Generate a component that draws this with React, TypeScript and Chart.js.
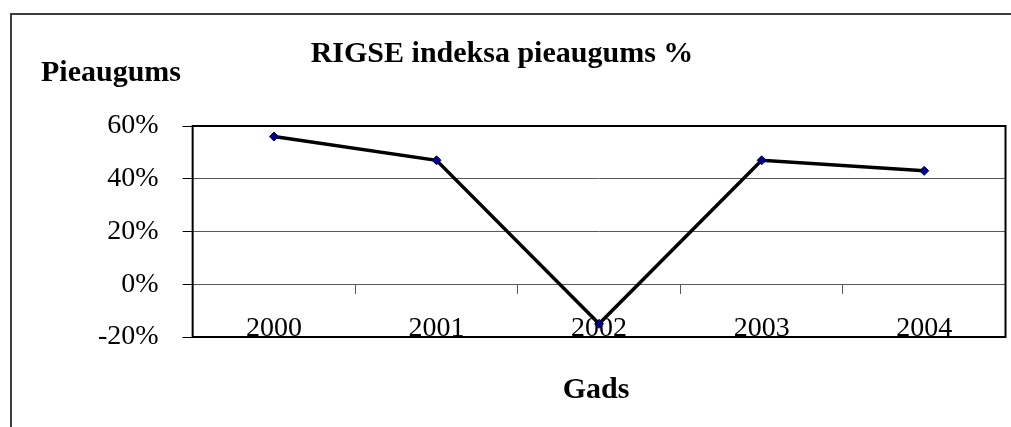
import React, { useEffect, useRef } from "react";
import { Chart, registerables } from "chart.js";

Chart.register(...registerables);

const categories = ["2000", "2001", "2002", "2003", "2004"];
const growthValues = [56, 47, -15, 47, 43];
const yTickValues = [-20, 0, 20, 40, 60];

const chartTitle = "RIGSE indeksa pieaugums %";
const yAxisTitle = "Pieaugums";
const xAxisTitle = "Gads";

const FONT = "'Liberation Serif', 'Times New Roman', serif";

const framePlugin = {
  id: "frameAndTexts",
  beforeDraw(chart: any) {
    const ctx = chart.ctx;
    ctx.save();
    ctx.fillStyle = "#ffffff";
    ctx.fillRect(0, 0, chart.width, chart.height);
    ctx.strokeStyle = "#3c3c3c";
    ctx.lineWidth = 2;
    ctx.strokeRect(11, 14, chart.width + 50, chart.height + 50);
    ctx.restore();
  },
  beforeDatasetsDraw(chart: any) {
    const { ctx, chartArea } = chart;
    ctx.save();
    ctx.strokeStyle = "#000000";
    ctx.lineWidth = 2;
    ctx.strokeRect(
      chartArea.left,
      chartArea.top,
      chartArea.right - chartArea.left,
      chartArea.bottom - chartArea.top
    );
    ctx.restore();
  },
  afterDraw(chart: any) {
    const { ctx, chartArea } = chart;
    ctx.save();
    ctx.fillStyle = "#000000";
    ctx.font = `bold 30px ${FONT}`;
    ctx.textBaseline = "alphabetic";
    ctx.textAlign = "center";
    ctx.fillText(chartTitle, 502, 62);
    ctx.textAlign = "left";
    ctx.fillText(yAxisTitle, 41, 81);
    ctx.textAlign = "center";
    ctx.fillText(xAxisTitle, (chartArea.left + chartArea.right) / 2 - 3, 398);
    ctx.restore();
  },
};

export default function App() {
  const canvasRef = useRef<HTMLCanvasElement | null>(null);

  useEffect(() => {
    if (!canvasRef.current) return;
    const chart = new Chart(canvasRef.current, {
      type: "line",
      data: {
        labels: categories,
        datasets: [
          {
            label: chartTitle,
            data: growthValues,
            borderColor: "#000000",
            borderWidth: 3.5,
            tension: 0,
            pointStyle: "rectRot",
            pointRadius: 4.5,
            pointBackgroundColor: "#000080",
            pointBorderColor: "#000060",
            pointBorderWidth: 1,
          },
        ],
      },
      options: {
        animation: false,
        responsive: false,
        devicePixelRatio: 1,
        layout: { padding: { left: 74, right: 3, top: 126, bottom: 90 } },
        plugins: {
          legend: { display: false },
          title: { display: false },
          tooltip: { enabled: false },
        },
        scales: {
          x: {
            type: "category",
            offset: true,
            position: { y: 0 } as any,
            grid: {
              display: true,
              offset: true,
              drawOnChartArea: false,
              drawTicks: true,
              tickLength: 9,
              color: "#595959",
              tickColor: "#595959",
            },
            border: { display: true, color: "#595959", width: 1 },
            ticks: {
              color: "#000000",
              padding: 19,
              maxRotation: 0,
              font: { family: FONT, size: 28 },
            },
          },
          y: {
            min: -20,
            max: 60,
            afterBuildTicks(scale: any) {
              scale.ticks = yTickValues.map((v) => ({ value: v }));
            },
            grid: {
              color: "#595959",
              lineWidth: 1,
              drawTicks: true,
              tickLength: 10,
              tickColor: "#000000",
            },
            border: { display: false },
            ticks: {
              color: "#000000",
              padding: 24,
              font: { family: FONT, size: 28 },
              callback: (v: any) => `${v}%`,
            },
          },
        },
      },
      plugins: [framePlugin],
    });
    return () => chart.destroy();
  }, []);

  return (
    <div style={{ position: "fixed", left: 0, top: 0, width: 1011, height: 427, background: "#fff" }}>
      <canvas ref={canvasRef} width={1011} height={427} style={{ display: "block" }} />
    </div>
  );
}
